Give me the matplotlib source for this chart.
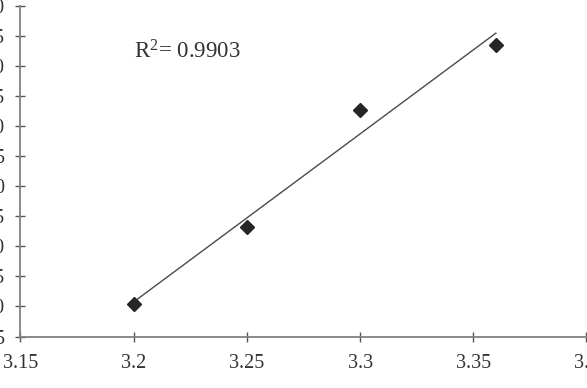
import matplotlib
matplotlib.use("Agg")
import matplotlib.pyplot as plt
import numpy as np

# values (y labels are cut off in the reference)
x_vals = [3.2, 3.25, 3.3, 3.36]
y_vals = [10.33, 23.2, 42.67, 53.5]
x_ticks = [3.15, 3.2, 3.25, 3.3, 3.35, 3.4]
y_ticks = list(range(5, 61, 5))
r2_text = "R$^2$= 0.9903"

plt.rcParams["font.family"] = ["Liberation Serif", "DejaVu Serif"]
plt.rcParams["mathtext.fontset"] = "custom"
plt.rcParams["mathtext.rm"] = "Liberation Serif"
plt.rcParams["mathtext.it"] = "Liberation Serif"

fig = plt.figure(figsize=(5.87, 3.88), dpi=100)
ax = fig.add_axes([0.0349, 0.1327, 0.9642, 0.8518])

ax.plot(x_vals, y_vals, linestyle="none", marker="D", markersize=7.5,
        color="#262626", zorder=3)

# linear trend line over the data range
k, b = np.polyfit(x_vals, y_vals, 1)
xs = np.array([min(x_vals), max(x_vals)])
ax.plot(xs, k * xs + b, color="#4a4a4a", linewidth=1.0, zorder=2)

ax.text(3.2, 52.4, r2_text, fontsize=16.5, color="#333333", va="center")

ax.set_xlim(3.15, 3.4)
ax.set_ylim(5, 60)
ax.set_xticks(x_ticks)
ax.set_xticklabels([f"{t:g}" for t in x_ticks])
ax.set_yticks(y_ticks)

for side in ("top", "right"):
    ax.spines[side].set_visible(False)
for side in ("left", "bottom"):
    ax.spines[side].set_color("#808080")
    ax.spines[side].set_linewidth(1.3)

ax.tick_params(axis="both", direction="inout", length=7, width=1.0,
               color="#555555", labelsize=14.5, labelcolor="#333333")
ax.tick_params(axis="x", pad=9)
ax.tick_params(axis="y", pad=8)

fig.savefig("out.png", dpi=100)
